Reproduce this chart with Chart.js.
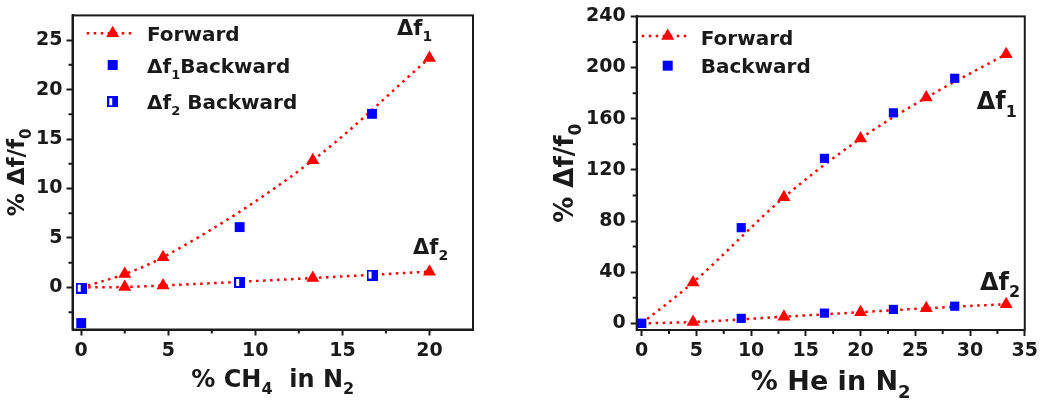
<!DOCTYPE html>
<html>
<head>
<meta charset="utf-8">
<script src="https://cdn.jsdelivr.net/npm/chart.js@4.4.0/dist/chart.umd.min.js"></script>
<style>
  body { margin: 0; background: #fff; }
  .box { position: absolute; top: 0; width: 521px; height: 410px; }
</style>
</head>
<body>
<div class="box" style="left:0"><canvas id="chartCH4"></canvas></div>
<div class="box" style="left:521px"><canvas id="chartHe"></canvas></div>
<script>
// left panel: % CH4 in N2
const ch4Fwd   = [0, 2.5, 4.7, 13.3, 20];
const ch4F1Fwd = [0, 1.35, 3.05, 12.85, 23.2];
const ch4F2Fwd = [0, 0.05, 0.2, 0.95, 1.6];
const ch4Bwd   = [0, 9.1, 16.7];
const ch4F1Bwd = [-3.6, 6.1, 17.55];
const ch4F2Bwd = [-0.07, 0.5, 1.25];

// right panel: % He in N2
const heFwd   = [0, 4.7, 13, 20, 26, 33.3];
const heF1Fwd = [0, 32, 98.5, 144.5, 176.5, 210.5];
const heF2Fwd = [0, 1, 5.2, 8.7, 11.8, 15];
const heBwd   = [0, 9.1, 16.7, 23, 28.6];
const heF1Bwd = [0, 74.8, 129, 164.6, 191.6];
const heF2Bwd = [0, 3.9, 8, 10.9, 13.4];

// tick values
const ch4XTicks = [0, 5, 10, 15, 20];
const ch4YTicks = [0, 5, 10, 15, 20, 25];
const ch4XMinor = [2.5, 7.5, 12.5, 17.5];
const ch4YMinor = [-2.5, 2.5, 7.5, 12.5, 17.5, 22.5];
const heXTicks = [0, 5, 10, 15, 20, 25, 30, 35];
const heYTicks = [0, 40, 80, 120, 160, 200, 240];
const heXMinor = [2.5, 7.5, 12.5, 17.5, 22.5, 27.5, 32.5];
const heYMinor = [20, 60, 100, 140, 180, 220];

const RED = '#ff0000';
const BLUE = '#0000ff';
const INK = '#1a1a1a';
const FAMILY = '"DejaVu Sans", sans-serif';

const pts = (xs, ys) => xs.map((x, i) => ({x: x, y: ys[i]}));

// half filled square marker
function halfSquare(size) {
  const c = document.createElement('canvas');
  c.width = size; c.height = size;
  const g = c.getContext('2d');
  g.fillStyle = BLUE;
  g.fillRect(0, 0, size, size);
  g.fillStyle = '#fff';
  g.fillRect(2, 2, 3, size - 4);
  return c;
}

function fwdLine(xs, ys) {
  return {
    data: pts(xs, ys), showLine: true, order: 1,
    borderColor: RED, borderWidth: 2.5, borderDash: [2.5, 4.5],
    cubicInterpolationMode: 'monotone',
    pointStyle: 'triangle', backgroundColor: RED,
    pointRadius: xs.map((x, i) => i === 0 ? 0 : 7.5),
    pointBorderWidth: 0, clip: false
  };
}
function bwdPoints(xs, ys, style, r) {
  return {
    data: pts(xs, ys), showLine: false, order: 0,
    pointStyle: style, backgroundColor: BLUE, borderColor: BLUE,
    pointRadius: r, pointBorderWidth: 0, clip: false
  };
}

function axis(min, max, ticks, fit, size, pad) {
  return {
    type: 'linear', min: min, max: max,
    afterBuildTicks: s => { s.ticks = ticks.map(v => ({value: v})); },
    afterFit: fit,
    grid: {drawOnChartArea: false, tickLength: 6, tickWidth: 2, tickColor: INK},
    border: {color: INK, width: 2},
    ticks: {color: INK, padding: pad, font: {family: FAMILY, weight: 'bold', size: size}}
  };
}

// text with subscripts: parts = [[text, isSub], ...]
function rich(ctx, parts, x, y, size, align) {
  const big = 'bold ' + size + 'px ' + FAMILY;
  const small = 'bold ' + Math.round(size * 0.65) + 'px ' + FAMILY;
  let w = 0;
  parts.forEach(p => { ctx.font = p[1] ? small : big; w += ctx.measureText(p[0]).width; });
  let cx = align === 'center' ? x - w / 2 : x;
  ctx.textAlign = 'left';
  ctx.textBaseline = 'alphabetic';
  parts.forEach(p => {
    ctx.font = p[1] ? small : big;
    ctx.fillText(p[0], cx, y + (p[1] ? size * 0.3 : 0));
    cx += ctx.measureText(p[0]).width;
  });
}

function triangle(ctx, x, y, r) {
  ctx.beginPath();
  ctx.moveTo(x, y - r);
  ctx.lineTo(x + 0.866 * r, y + 0.5 * r);
  ctx.lineTo(x - 0.866 * r, y + 0.5 * r);
  ctx.closePath();
  ctx.fill();
}

function decor(cfg) {
  return {
    id: 'decor',
    afterDraw(chart) {
      const ctx = chart.ctx, a = chart.chartArea;
      const xs = chart.scales.x, ys = chart.scales.y;
      ctx.save();
      ctx.strokeStyle = INK;
      ctx.lineWidth = 2;
      ctx.strokeRect(a.left, a.top, a.right - a.left, a.bottom - a.top);
      // minor ticks
      ctx.beginPath();
      cfg.xMinor.forEach(v => {
        const p = xs.getPixelForValue(v);
        ctx.moveTo(p, a.bottom); ctx.lineTo(p, a.bottom + 4);
      });
      cfg.yMinor.forEach(v => {
        const p = ys.getPixelForValue(v);
        ctx.moveTo(a.left, p); ctx.lineTo(a.left - 4, p);
      });
      ctx.stroke();

      // legend
      const L = cfg.legend;
      ctx.strokeStyle = RED;
      ctx.lineWidth = 2.5;
      ctx.setLineDash([2.5, 4.5]);
      ctx.beginPath();
      ctx.moveTo(L.x1, L.rows[0]); ctx.lineTo(L.x2, L.rows[0]);
      ctx.stroke();
      ctx.setLineDash([]);
      ctx.fillStyle = RED;
      triangle(ctx, L.mx, L.rows[0], 7.5);
      ctx.fillStyle = BLUE;
      ctx.fillRect(L.mx - 5, L.rows[1] - 5, 10, 10);
      if (L.rows[2]) ctx.drawImage(cfg.half, L.mx - 5.5, L.rows[2] - 5.5);
      ctx.fillStyle = INK;
      L.labels.forEach((parts, i) => rich(ctx, parts, L.tx, L.base[i], L.size, 'left'));

      // annotations
      cfg.notes.forEach(n => rich(ctx, n.parts, n.x, n.y, n.size, 'left'));

      // axis titles
      const t = cfg.xTitle;
      rich(ctx, t.parts, (a.left + a.right) / 2, t.y, t.size, 'center');
      const v = cfg.yTitle;
      ctx.translate(v.x, (a.top + a.bottom) / 2);
      ctx.rotate(-Math.PI / 2);
      rich(ctx, v.parts, 0, 0, v.size, 'center');
      ctx.restore();
    }
  };
}

const half = halfSquare(11);

new Chart(document.getElementById('chartCH4'), {
  type: 'scatter',
  data: {
    datasets: [
      bwdPoints(ch4Bwd, ch4F1Bwd, 'rect', 7),
      bwdPoints(ch4Bwd, ch4F2Bwd, half, 5.5),
      fwdLine(ch4Fwd, ch4F1Fwd),
      fwdLine(ch4Fwd, ch4F2Fwd)
    ]
  },
  options: {
    responsive: true, maintainAspectRatio: false, animation: false,
    layout: {padding: {top: 6, right: 48, left: 0, bottom: 0}},
    plugins: {legend: {display: false}, tooltip: {enabled: false}},
    scales: {
      x: axis(-0.5, 22.5, ch4XTicks, s => { s.height = 80.5; }, 19, 4),
      y: axis(-4.25, 27.5, ch4YTicks, s => { s.width = 72.5; }, 19, 4)
    }
  },
  plugins: [decor({
    xMinor: ch4XMinor, yMinor: ch4YMinor, half: half,
    legend: {
      x1: 86.7, x2: 135, mx: 112.7, tx: 147, size: 20,
      rows: [33.3, 65, 101.7], base: [40.7, 73.3, 109.3],
      labels: [
        [['Forward', false]],
        [['Δf', false], ['1', true], ['Backward', false]],
        [['Δf', false], ['2', true], [' Backward', false]]
      ]
    },
    notes: [
      {parts: [['Δf', false], ['1', true]], x: 397, y: 35, size: 21},
      {parts: [['Δf', false], ['2', true]], x: 413, y: 254, size: 21}
    ],
    xTitle: {parts: [['% CH', false], ['4', true], ['  in N', false], ['2', true]], y: 387, size: 24},
    yTitle: {parts: [['% Δf/f', false], ['0', true]], x: 24, size: 23}
  })]
});

new Chart(document.getElementById('chartHe'), {
  type: 'scatter',
  data: {
    datasets: [
      bwdPoints(heBwd, heF1Bwd, 'rect', 6.5),
      bwdPoints(heBwd, heF2Bwd, 'rect', 6.5),
      fwdLine(heFwd, heF1Fwd),
      fwdLine(heFwd, heF2Fwd)
    ]
  },
  options: {
    responsive: true, maintainAspectRatio: false, animation: false,
    layout: {padding: {top: 14, right: 14, left: 0, bottom: 0}},
    plugins: {legend: {display: false}, tooltip: {enabled: false}},
    scales: {
      x: axis(-0.45, 35, heXTicks, s => { s.height = 80; }, 19, 4),
      y: axis(-5.2, 240, heYTicks, s => { s.width = 115.7; }, 19, 5)
    }
  },
  plugins: [decor({
    xMinor: heXMinor, yMinor: heYMinor, half: half,
    legend: {
      x1: 120.7, x2: 167, mx: 146.7, tx: 179.7, size: 20,
      rows: [36, 65.7], base: [45, 73.3],
      labels: [
        [['Forward', false]],
        [['Backward', false]]
      ]
    },
    notes: [
      {parts: [['Δf', false], ['1', true]], x: 455.7, y: 109.3, size: 24},
      {parts: [['Δf', false], ['2', true]], x: 459, y: 290, size: 24}
    ],
    xTitle: {parts: [['% He in N', false], ['2', true]], y: 390, size: 27},
    yTitle: {parts: [['% Δf/f', false], ['0', true]], x: 52, size: 26}
  })]
});
</script>
</body>
</html>
